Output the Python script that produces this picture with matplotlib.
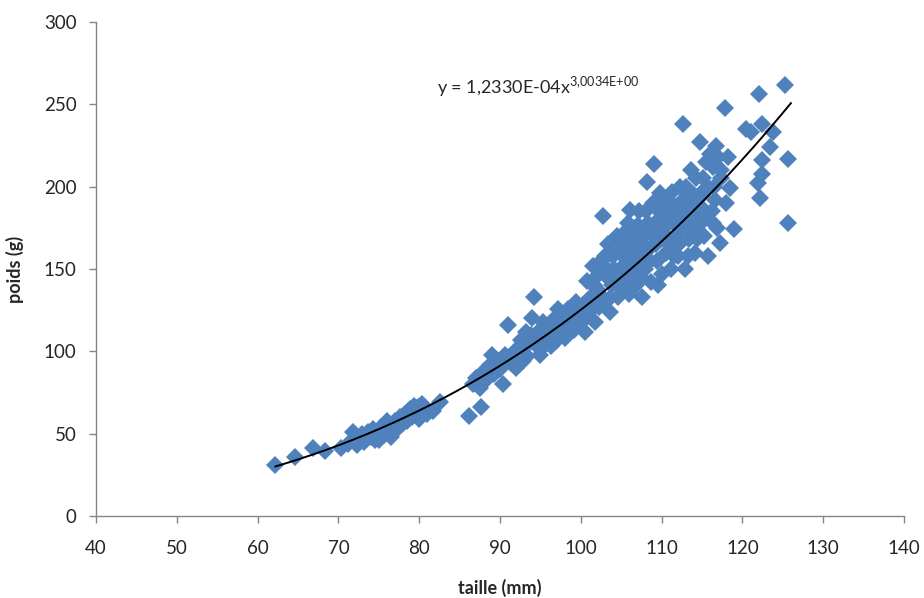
import numpy as np
import matplotlib
matplotlib.use("Agg")
import matplotlib.pyplot as plt

plt.rcParams["font.family"] = ["Lato", "DejaVu Sans"]

# Measured fish: length (mm) and weight (g)
taille = [
    62.2, 64.6, 66.8, 68.3, 70.3, 71.2, 71.8, 72.3,
    72.5, 72.9, 73.2, 73.6, 74.0, 74.3, 74.7, 75.0, 75.3, 75.6, 75.9, 76.2, 76.5, 76.8,
    77.0, 77.3, 77.6, 77.9, 78.2, 78.5, 78.8, 79.1, 79.4, 79.7, 80.0, 80.3, 80.6, 81.0, 81.7, 82.6,
    73.0, 74.5, 75.8, 76.0, 77.2, 78.0, 78.6, 79.3, 79.9,
    86.2, 87.6, 86.6, 87.0, 87.5, 88.0, 88.4, 88.8, 89.2, 89.6, 90.0, 90.4, 90.6, 91.0, 91.3,
    91.8, 92.2, 92.6, 93.0, 93.4, 93.8, 94.0, 94.2, 94.4, 94.7, 95.0, 95.3, 95.6, 95.9,
    89.0, 92.0, 92.8, 93.6, 94.9, 96.0, 96.9, 97.6, 98.6, 99.6, 97.2,
    96.3, 96.6, 97.0, 97.4, 97.8, 98.1, 98.4, 98.8, 99.1, 99.4, 99.8, 100.0, 100.3, 100.8, 100.5,
    101.0, 101.2, 101.5, 101.7, 102.0, 102.2, 102.5, 102.7, 102.9, 103.2, 103.4, 103.6, 103.9, 104.1, 104.3,
    104.6, 104.9, 105.1, 105.4, 105.6, 105.9, 106.1, 106.3, 106.6, 106.8, 107.1, 107.3, 107.6, 107.8, 108.0, 108.2,
    108.5, 108.7, 109.0, 109.2, 109.4, 109.7, 109.9, 110.1, 110.4, 110.6, 110.8, 111.1, 111.3, 111.6, 111.8, 112.0,
    100.2, 100.9, 101.4, 101.9, 102.3, 102.8, 103.0, 103.5, 103.8, 104.2, 104.5, 104.8, 105.2, 105.5, 105.8,
    106.0, 106.4, 106.9, 107.2, 107.5, 107.9, 108.3, 108.6, 108.9, 109.3, 109.6, 109.8, 110.2, 110.5, 110.9,
    111.2, 111.5, 111.9, 112.2, 112.6, 112.8, 113.0, 113.3, 113.7, 114.0, 114.4, 114.7, 115.1, 115.4, 115.8,
    116.3, 116.6, 117.0, 117.3, 116.4,
    112.3, 112.5, 112.7, 112.9, 113.2, 113.4, 113.6, 113.9, 114.1, 114.3, 114.6, 114.8, 115.0, 115.3, 115.5, 115.7,
    116.0, 116.2, 116.5, 116.7, 116.9, 117.2, 117.4, 117.8, 118.0, 118.5, 119.0, 118.2,
    120.5, 121.0, 121.9, 122.2, 122.4, 122.4, 122.0, 122.4, 123.4, 123.8, 125.3, 125.6, 125.6,
    # extra fill in the dense part of the band
    101.6, 102.6, 103.3, 104.0, 104.7, 105.3, 106.2, 106.7, 107.4, 108.1, 108.8, 109.5,
    110.3, 111.0, 111.7, 112.4, 113.1, 113.8, 114.5, 115.2, 99.0, 98.3, 95.2, 93.2,
]
poids = [
    31, 36, 41, 39.5, 41.5, 44, 51, 43,
    47, 50, 45, 51, 48, 53, 50, 46, 54, 49, 56, 52, 48, 55,
    58, 53, 60, 56, 62, 58, 65, 60, 67, 63, 59, 68, 64, 62, 64, 69,
    48, 46, 51, 58, 57, 59, 61, 64, 66,
    61, 66, 80, 84, 78, 88, 83, 92, 86, 95, 89, 80, 98, 116, 93,
    100, 96, 107, 102, 97, 110, 120, 133, 104, 112, 98, 118, 108, 114,
    98, 90, 94, 105, 106, 110, 106, 110, 113, 116, 126,
    103, 119, 112, 122, 116, 108, 126, 119, 113, 130, 122, 117, 128, 143, 112,
    124, 133, 152, 118, 138, 127, 155, 182, 131, 145, 165, 124, 140, 150, 168,
    133, 160, 145, 172, 137, 155, 186, 148, 166, 140, 177, 158, 133, 170, 150, 203,
    163, 142, 214, 175, 155, 185, 168, 147, 192, 160, 178, 150, 197, 170, 185, 158,
    120, 131, 126, 145, 135, 148, 158, 132, 160, 142, 170, 150, 162, 143, 178,
    135, 170, 152, 185, 145, 162, 178, 155, 190, 165, 140, 196, 172, 183, 165,
    190, 158, 176, 165, 192, 180, 200, 158, 175, 195, 168, 188, 205, 182, 200,
    212, 192, 218, 205, 178,
    200, 175, 238, 150, 190, 168, 210, 183, 160, 205, 177, 227, 195, 170, 215, 158,
    220, 185, 200, 225, 175, 166, 210, 248, 190, 199, 174, 218,
    235, 233, 202, 193, 208, 216, 256, 238, 224, 233, 262, 217, 178,
    140, 130, 150, 158, 143, 165, 160, 175, 165, 185, 172, 180,
    175, 180, 168, 185, 175, 190, 182, 198, 124, 120, 102, 112,
]

# Power-law trend line coefficients
coef_a = 1.2330e-4
coef_b = 3.0034

AXIS_GREY = "#868686"
TEXT_COL = "#262626"

fig = plt.figure(figsize=(9.24, 5.98), dpi=100)
ax = fig.add_axes([0.1039, 0.1371, 0.8745, 0.8261])

ax.plot(taille, poids, linestyle="none", marker="D", ms=9.5,
        color="#4F81BD", markeredgewidth=0, zorder=2)

xs = np.linspace(min(taille), 126.0, 200)
ax.plot(xs, coef_a * xs ** coef_b, color="black", lw=1.4, zorder=3)

ax.text(82.2, 257,
        r"y = 1,2330E-04x$^{\mathregular{3{,}0034E{+}00}}$",
        fontsize=13, color=TEXT_COL, ha="left", va="baseline")

ax.set_xlim(40, 140)
ax.set_ylim(0, 300)
ax.set_xticks(range(40, 141, 10))
ax.set_yticks(range(0, 301, 50))

for side in ("top", "right"):
    ax.spines[side].set_visible(False)
for side in ("left", "bottom"):
    ax.spines[side].set_color(AXIS_GREY)
    ax.spines[side].set_linewidth(1.0)

ax.tick_params(axis="both", direction="out", length=5, width=1.0,
               color=AXIS_GREY, labelsize=13.5, labelcolor=TEXT_COL)
ax.tick_params(axis="x", pad=12)
ax.tick_params(axis="y", pad=9)

ax.set_xlabel("taille (mm)", fontsize=13, fontweight="bold", color=TEXT_COL, labelpad=16)
ax.set_ylabel("poids (g)", fontsize=13, fontweight="bold", color=TEXT_COL, labelpad=14)

fig.savefig("out.png", dpi=100)
